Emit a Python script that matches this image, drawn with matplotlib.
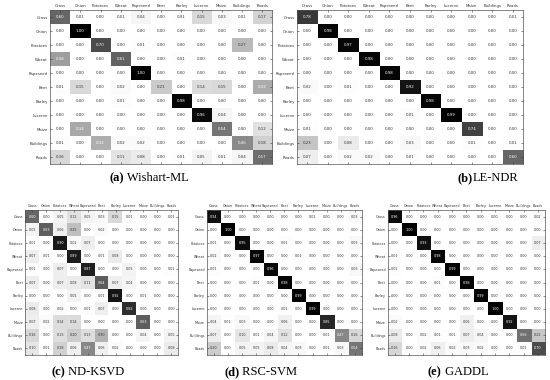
import matplotlib
matplotlib.use("Agg")
import matplotlib.pyplot as plt
import numpy as np

classes = ["Grass", "Onion", "Potatoes", "Wheat", "Rapeseed", "Beet",
           "Barley", "Lucerne", "Maize", "Buildings", "Roads"]

wishart_ml = [
    [0.60, 0.01, 0.00, 0.01, 0.04, 0.00, 0.01, 0.15, 0.03, 0.01, 0.17],
    [0.00, 1.00, 0.00, 0.00, 0.00, 0.00, 0.00, 0.00, 0.00, 0.00, 0.00],
    [0.00, 0.00, 0.70, 0.00, 0.01, 0.00, 0.00, 0.00, 0.00, 0.27, 0.00],
    [0.38, 0.00, 0.00, 0.61, 0.00, 0.00, 0.01, 0.00, 0.00, 0.00, 0.00],
    [0.00, 0.00, 0.00, 0.00, 1.00, 0.00, 0.00, 0.00, 0.00, 0.00, 0.00],
    [0.01, 0.15, 0.00, 0.02, 0.00, 0.21, 0.00, 0.14, 0.15, 0.00, 0.33],
    [0.00, 0.00, 0.00, 0.01, 0.00, 0.00, 0.98, 0.00, 0.00, 0.00, 0.00],
    [0.00, 0.00, 0.00, 0.00, 0.00, 0.00, 0.00, 0.96, 0.04, 0.00, 0.00],
    [0.00, 0.34, 0.00, 0.00, 0.00, 0.00, 0.00, 0.00, 0.54, 0.00, 0.12],
    [0.01, 0.00, 0.32, 0.02, 0.02, 0.00, 0.00, 0.00, 0.00, 0.46, 0.18],
    [0.16, 0.00, 0.00, 0.11, 0.08, 0.00, 0.01, 0.05, 0.01, 0.04, 0.57],
]

le_ndr = [
    [0.78, 0.00, 0.00, 0.00, 0.00, 0.00, 0.00, 0.00, 0.00, 0.00, 0.01],
    [0.00, 0.98, 0.00, 0.00, 0.00, 0.00, 0.00, 0.00, 0.00, 0.00, 0.00],
    [0.00, 0.00, 0.97, 0.00, 0.00, 0.00, 0.00, 0.00, 0.00, 0.00, 0.00],
    [0.00, 0.00, 0.00, 0.98, 0.00, 0.00, 0.00, 0.00, 0.00, 0.00, 0.00],
    [0.00, 0.00, 0.00, 0.00, 0.98, 0.00, 0.00, 0.00, 0.00, 0.00, 0.00],
    [0.02, 0.00, 0.01, 0.00, 0.00, 0.92, 0.00, 0.00, 0.00, 0.00, 0.00],
    [0.00, 0.00, 0.00, 0.00, 0.00, 0.00, 0.98, 0.00, 0.00, 0.00, 0.00],
    [0.00, 0.00, 0.00, 0.00, 0.00, 0.01, 0.00, 0.99, 0.00, 0.00, 0.00],
    [0.01, 0.00, 0.00, 0.00, 0.00, 0.00, 0.00, 0.00, 0.74, 0.00, 0.00],
    [0.23, 0.00, 0.08, 0.00, 0.00, 0.03, 0.00, 0.00, 0.01, 0.00, 0.01],
    [0.07, 0.00, 0.02, 0.02, 0.00, 0.01, 0.00, 0.00, 0.00, 0.00, 0.60],
]

nd_ksvd = [
    [0.60, 0.00, 0.05, 0.12, 0.05, 0.03, 0.15, 0.01, 0.00, 0.00, 0.01],
    [0.05, 0.63, 0.06, 0.25, 0.00, 0.02, 0.00, 0.00, 0.00, 0.00, 0.00],
    [0.01, 0.00, 0.90, 0.02, 0.07, 0.00, 0.00, 0.00, 0.00, 0.00, 0.00],
    [0.07, 0.01, 0.00, 0.89, 0.00, 0.01, 0.08, 0.00, 0.00, 0.00, 0.00],
    [0.01, 0.00, 0.07, 0.00, 0.87, 0.00, 0.00, 0.05, 0.00, 0.00, 0.01],
    [0.07, 0.00, 0.07, 0.08, 0.11, 0.64, 0.07, 0.04, 0.00, 0.00, 0.00],
    [0.00, 0.00, 0.00, 0.05, 0.00, 0.01, 0.92, 0.00, 0.01, 0.00, 0.00],
    [0.08, 0.00, 0.02, 0.00, 0.01, 0.07, 0.00, 0.82, 0.00, 0.00, 0.00],
    [0.07, 0.02, 0.14, 0.14, 0.00, 0.00, 0.00, 0.00, 0.63, 0.00, 0.00],
    [0.16, 0.00, 0.13, 0.20, 0.13, 0.30, 0.00, 0.00, 0.04, 0.00, 0.05],
    [0.10, 0.01, 0.18, 0.06, 0.47, 0.06, 0.02, 0.00, 0.00, 0.00, 0.08],
]

rsc_svm = [
    [0.94, 0.00, 0.00, 0.00, 0.00, 0.00, 0.00, 0.01, 0.00, 0.00, 0.03],
    [0.00, 1.00, 0.00, 0.00, 0.00, 0.00, 0.00, 0.00, 0.00, 0.00, 0.00],
    [0.01, 0.00, 0.95, 0.00, 0.00, 0.01, 0.00, 0.00, 0.00, 0.00, 0.03],
    [0.02, 0.00, 0.00, 0.97, 0.00, 0.00, 0.01, 0.00, 0.00, 0.00, 0.00],
    [0.01, 0.00, 0.00, 0.00, 0.96, 0.00, 0.00, 0.00, 0.00, 0.00, 0.03],
    [0.00, 0.00, 0.00, 0.01, 0.00, 0.98, 0.00, 0.00, 0.00, 0.00, 0.00],
    [0.00, 0.00, 0.00, 0.00, 0.00, 0.00, 0.99, 0.00, 0.00, 0.00, 0.00],
    [0.00, 0.00, 0.00, 0.00, 0.00, 0.01, 0.00, 0.99, 0.00, 0.00, 0.00],
    [0.04, 0.01, 0.03, 0.00, 0.00, 0.06, 0.00, 0.00, 0.85, 0.00, 0.00],
    [0.07, 0.00, 0.10, 0.01, 0.04, 0.12, 0.00, 0.00, 0.01, 0.47, 0.16],
    [0.20, 0.00, 0.05, 0.05, 0.08, 0.04, 0.03, 0.00, 0.01, 0.03, 0.54],
]

gaddl = [
    [0.96, 0.00, 0.00, 0.00, 0.00, 0.00, 0.00, 0.00, 0.00, 0.00, 0.02],
    [0.00, 1.00, 0.00, 0.00, 0.00, 0.00, 0.00, 0.00, 0.00, 0.00, 0.00],
    [0.00, 0.00, 0.93, 0.00, 0.00, 0.00, 0.00, 0.00, 0.00, 0.00, 0.07],
    [0.01, 0.00, 0.00, 0.98, 0.00, 0.00, 0.00, 0.00, 0.00, 0.00, 0.00],
    [0.01, 0.00, 0.00, 0.00, 0.99, 0.00, 0.00, 0.00, 0.00, 0.00, 0.00],
    [0.00, 0.00, 0.00, 0.01, 0.00, 0.98, 0.00, 0.00, 0.00, 0.00, 0.00],
    [0.00, 0.00, 0.00, 0.00, 0.00, 0.00, 0.99, 0.00, 0.00, 0.00, 0.00],
    [0.00, 0.00, 0.00, 0.00, 0.00, 0.00, 0.00, 1.00, 0.00, 0.00, 0.00],
    [0.02, 0.00, 0.00, 0.00, 0.00, 0.06, 0.00, 0.00, 0.92, 0.00, 0.00],
    [0.08, 0.00, 0.02, 0.01, 0.01, 0.07, 0.04, 0.00, 0.00, 0.56, 0.22],
    [0.16, 0.00, 0.02, 0.06, 0.02, 0.03, 0.02, 0.00, 0.00, 0.01, 0.70],
]

captions = [("(a)", " Wishart-ML"), ("(b)", "LE-NDR"), ("(c)", " ND-KSVD"),
            ("(d)", " RSC-SVM"), ("(e)", " GADDL")]


def plota_matriz(fig, rect, matriz, fs):
    matriz = np.array(matriz)
    n = len(classes)
    ax = fig.add_axes(rect)
    ax.imshow(matriz, cmap="gray_r", vmin=0, vmax=1, aspect="auto",
              interpolation="nearest")
    for i in range(n):
        for j in range(n):
            v = matriz[i, j]
            cor = "white" if v > 0.3 else "#333333"
            ax.text(j, i, f"{v:.2f}", ha="center", va="center",
                    fontsize=fs, color=cor)
    ax.set_xticks(range(n))
    ax.set_yticks(range(n))
    ax.set_xticklabels(classes, fontsize=fs)
    ax.set_yticklabels(classes, fontsize=fs)
    ax.tick_params(top=True, bottom=True, left=True, right=True,
                   labeltop=True, labelbottom=False, direction="in",
                   length=1.5, width=0.4, pad=1.5, colors="#333333")
    for s in ax.spines.values():
        s.set_linewidth(0.5)
        s.set_color("#555555")
    return ax


def legenda(fig, x, y, letra, nome):
    fig.text(x, y, letra, ha="right", va="center", fontsize=9,
             fontweight="bold", family="Liberation Serif")
    fig.text(x, y, nome, ha="left", va="center", fontsize=9,
             family="Liberation Serif")


fig = plt.figure(figsize=(5.5, 3.8), dpi=100)

plota_matriz(fig, [0.091, 0.568, 0.404, 0.405], wishart_ml, 2.8)
plota_matriz(fig, [0.540, 0.568, 0.411, 0.405], le_ndr, 2.8)
plota_matriz(fig, [0.046, 0.066, 0.278, 0.381], nd_ksvd, 2.4)
plota_matriz(fig, [0.376, 0.066, 0.282, 0.381], rsc_svm, 2.4)
plota_matriz(fig, [0.705, 0.066, 0.286, 0.381], gaddl, 2.4)

legenda(fig, 0.225, 0.532, *captions[0])
legenda(fig, 0.860, 0.532, *captions[1])
legenda(fig, 0.118, 0.021, *captions[2])
legenda(fig, 0.435, 0.021, *captions[3])
legenda(fig, 0.803, 0.021, *captions[4])

fig.savefig("out.png", dpi=100)
